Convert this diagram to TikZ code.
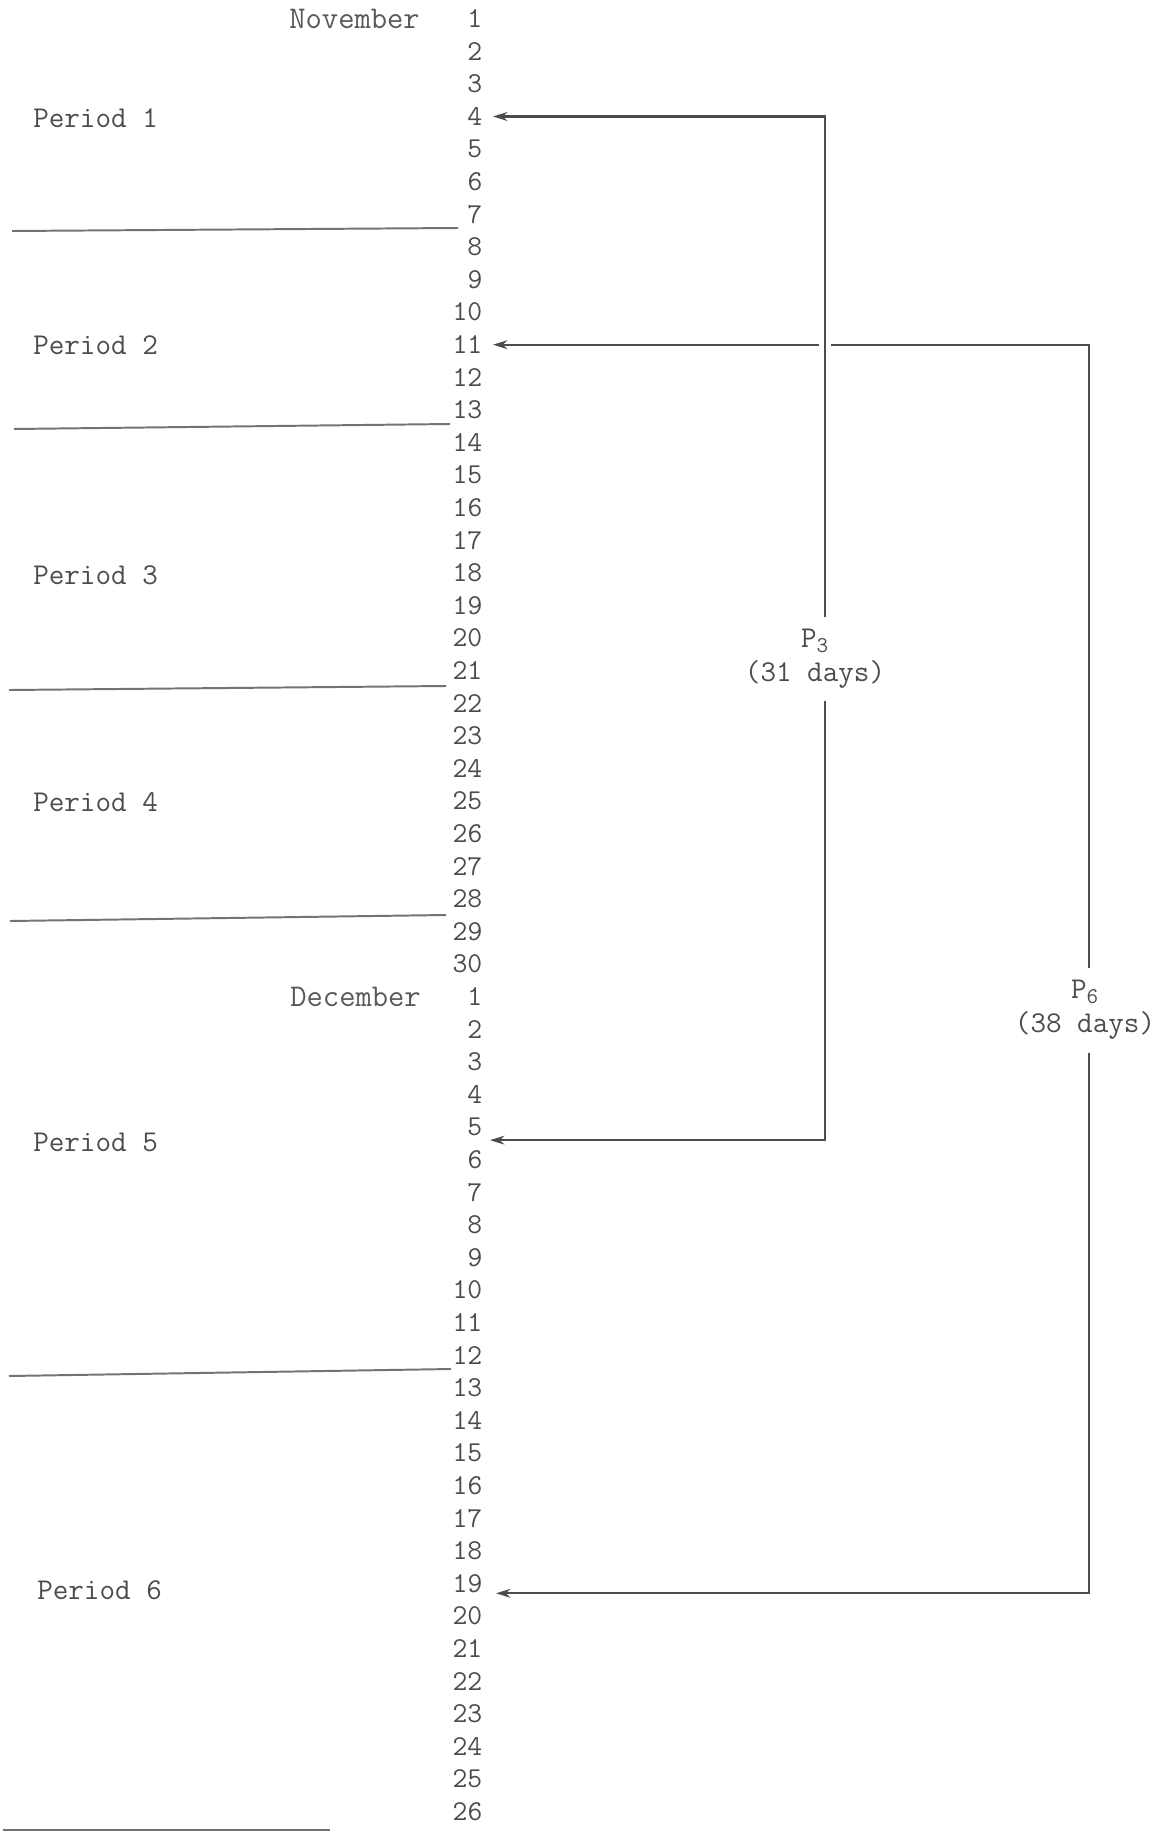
\documentclass[tikz,border=0pt]{standalone}
\usepackage{tikz}
\usetikzlibrary{arrows.meta,calc}

\begin{document}
\begin{tikzpicture}[
  x=0.025cm, y=-0.025cm,
  font=\ttfamily\fontsize{21.5}{24}\selectfont,
  day/.style={anchor=east, inner sep=1pt, text=black!70, font=\ttfamily\fontsize{20.5}{24}\selectfont},
  month/.style={anchor=east, inner sep=0pt, text=black!65, font=\ttfamily\fontsize{22.5}{24}\selectfont},
  period/.style={anchor=west, inner sep=0pt, text=black!70},
  span/.style={align=center, inner xsep=2pt, inner ysep=9pt, text=black!70},
  rule/.style={draw=black!55, line width=1.4pt},
  arr/.style={-{Stealth[length=3.6mm,width=2.2mm]}, draw=black!70, line width=1.5pt},
  bridge/.style={draw=white, line width=8pt}
]
\useasboundingbox (0,0) rectangle (1169,1832);

% day column
\foreach \d in {1,...,30}
  \node[day] (nov\d) at (484,{18.7+(\d-1)*32.6}) {\d};
\foreach \d in {1,...,26}
  \node[day] (dec\d) at (484,{18.7+(\d+29)*32.6}) {\d};

% months
\node[month] (nov) at (420,18.7) {November};
\node[month] (dec) at (421,996.7) {December};

% periods
\foreach \i/\px/\py in {1/33/118, 2/33/345, 3/33/575, 4/33/802, 5/33/1142, 6/37/1590}
  \node[period] (per\i) at (\px,\py) {Period \i};

% period boundaries
\draw[rule] (12,231) -- (458,228);
\draw[rule] (14,429) -- (450,424);
\draw[rule] (9,690) -- (446,686);
\draw[rule] (10,921) -- (446,915);
\draw[rule] (9,1376) -- (451,1369);
\draw[rule] (3,1830) -- (330,1830);

% spans
\coordinate (p3x) at (825,0);
\coordinate (p6x) at (1089,0);
\node[span] (p3) at (815,659) {P\textsubscript{\fontsize{16}{16}\selectfont 3}\\(31 days)};
\node[span] (p6) at (1085,1010) {P\textsubscript{\fontsize{16}{16}\selectfont 6}\\(38 days)};

\draw[arr] (p6.north -| p6x) |- ($(nov11.east)+(9,0)$);
\draw[arr] (p6.south -| p6x) |- ($(dec19.east)!0.3!(dec20.east)+(12,0)$);
\draw[bridge] ($(p3x |- nov11)+(0,-6)$) -- ($(p3x |- nov11)+(0,6)$);
\draw[arr] (p3.north -| p3x) |- ($(nov4.east)+(9,0)$);
\draw[arr] (p3.south -| p3x) |- ($(dec5.east)!0.4!(dec6.east)+(6,0)$);
\end{tikzpicture}
\end{document}
